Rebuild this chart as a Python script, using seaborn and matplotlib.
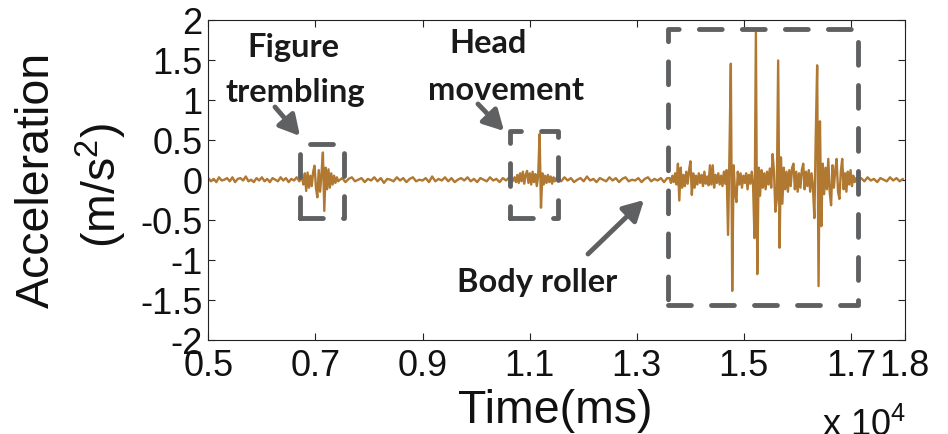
import numpy as np
import pandas as pd
import seaborn as sns
import matplotlib
matplotlib.use("Agg")
import matplotlib.pyplot as plt
from matplotlib.patches import Rectangle

# ---------------- data (time in ms, acceleration in m/s^2) ----------------
base1_start, base1_step = 5000, 50
base1_vals = [0.02, -0.02, 0.01, -0.03, 0.03, -0.01, 0.00, 0.02, -0.02, 0.03,
              -0.03, 0.01, 0.02, -0.01, 0.04, -0.02, 0.00, -0.03, 0.02, -0.01,
              0.03, -0.02, 0.01, -0.03, 0.02, 0.00, -0.02, 0.03, -0.01, 0.02,
              -0.03, 0.01, -0.01, 0.03, -0.02]

finger_start, finger_step = 6750, 26
finger_vals = [0.03, -0.06, 0.08, -0.14, 0.09, -0.10, 0.05, -0.08, 0.10, 0.175,
               -0.10, -0.22, 0.12, -0.15, 0.08, 0.34, -0.39, 0.15, -0.12, 0.13,
               -0.10, 0.08, -0.06, 0.05, -0.04, 0.03, -0.02]

base2_start, base2_step = 7440, 60
base2_vals = [-0.01, 0.02, -0.03, 0.01, 0.03, -0.02, 0.00, 0.02, -0.03, 0.01,
              -0.01, 0.03, -0.02, 0.02, -0.04, 0.01, 0.00, -0.02, 0.03, -0.01,
              0.02, -0.03, 0.01, 0.03, -0.02, 0.00, -0.01, 0.02, -0.03, 0.04,
              -0.02, 0.01, -0.01, 0.03, -0.02, 0.02, -0.03, 0.00, 0.02, -0.01,
              0.03, -0.02, 0.01, -0.03, 0.02, 0.00, -0.02, 0.03, -0.01, 0.01,
              -0.03, 0.02, -0.01, 0.03, -0.02]

head_start, head_step = 10718, 26
head_vals = [0.03, -0.03, 0.06, -0.04, 0.08, -0.02, 0.10, -0.05, 0.06, 0.11,
             -0.04, 0.08, -0.06, 0.10, -0.03, 0.07, -0.08, 0.05, 0.57, -0.35,
             0.08, -0.06, 0.05, -0.04, 0.06, -0.03, 0.04, -0.05, 0.03, -0.02,
             0.02]

base3_start, base3_step = 11530, 60
base3_vals = [0.01, -0.02, 0.03, -0.01, 0.02, -0.03, 0.00, 0.02, -0.02, 0.04,
              -0.01, 0.01, -0.03, 0.02, 0.00, -0.02, 0.03, -0.01, 0.02, -0.03,
              0.01, 0.03, -0.02, 0.00, -0.01, 0.02, -0.03, 0.01, 0.03, -0.02,
              0.01, -0.01, 0.02, -0.03, 0.02]

body_start, body_step = 13613, 26
body_vals = [0.02, -0.04, 0.05, -0.03, 0.08, -0.06, 0.20, -0.26, 0.15, -0.10,
             0.06, -0.08, 0.10, -0.05, 0.12, 0.23, -0.19, 0.08, -0.10, 0.05,
             -0.06, 0.08, -0.04, 0.06, -0.08, 0.10, -0.05, 0.04, -0.07, 0.18,
             -0.06, 0.18, -0.10, 0.06, -0.04, 0.08, -0.06, 0.05, -0.08, 0.10,
             -0.05, 0.12, -0.69, 0.30, 1.45, -1.39, 0.18, -0.15, -0.28, 0.10,
             -0.06, 0.08, -0.10, 0.05, -0.04, 0.08, -0.12, 0.06, -0.05, 0.10,
             -0.08, -0.73, 1.84, -1.18, 0.15, -0.20, 0.12, -0.10, 0.08, -0.12,
             0.10, -0.06, 0.14, -0.10, 0.32, 0.10, -0.40, -0.25, 1.49, -0.85,
             0.28, -0.30, 0.15, -0.12, 0.10, -0.15, 0.12, -0.08, 0.15, 0.20,
             -0.12, 0.10, -0.15, 0.08, -0.10, 0.12, 0.20, -0.12, 0.10, -0.08,
             0.12, -0.15, 0.08, -0.10, -0.48, 0.54, 1.43, -1.33, 0.73, -0.58,
             0.20, -0.18, 0.15, -0.12, 0.26, -0.15, -0.32, 0.18, -0.10, 0.12,
             0.26, -0.15, -0.24, 0.10, 0.26, -0.12, 0.08, -0.15, 0.10, -0.06,
             0.12, -0.08, 0.05, -0.03, 0.02]

base4_start, base4_step = 17130, 60
base4_vals = [-0.01, 0.02, -0.02, 0.03, -0.01, 0.01, -0.03, 0.02, 0.00, -0.02,
              0.03, -0.01, 0.02, -0.02, 0.01]

x_ticks = [5000, 7000, 9000, 11000, 13000, 15000, 17000, 18000]
x_tick_labels = ["0.5", "0.7", "0.9", "1.1", "1.3", "1.5", "1.7", "1.8"]
y_ticks = [-2, -1.5, -1, -0.5, 0, 0.5, 1, 1.5, 2]
y_tick_labels = ["-2", "-1.5", "-1", "-0.5", "0", "0.5", "1", "1.5", "2"]

# highlighted event boxes: (t_start, t_end, a_low, a_high)
box_finger = (6714, 7542, -0.48, 0.45)
box_head = (10639, 11523, -0.48, 0.61)
box_body = (13579, 17130, -1.57, 1.89)

# ---------------- build table ----------------
segments = [(base1_start, base1_step, base1_vals),
            (finger_start, finger_step, finger_vals),
            (base2_start, base2_step, base2_vals),
            (head_start, head_step, head_vals),
            (base3_start, base3_step, base3_vals),
            (body_start, body_step, body_vals),
            (base4_start, base4_step, base4_vals)]
t_all, a_all = [], []
for start, step, vals in segments:
    t_all.extend(start + step * np.arange(len(vals)))
    a_all.extend(vals)
df = pd.DataFrame({"t": t_all, "a": a_all})

# ---------------- style ----------------
sns.set_theme(style="ticks")
plt.rcParams["font.family"] = ["Liberation Sans", "DejaVu Sans"]
plt.rcParams["mathtext.fontset"] = "custom"
plt.rcParams["mathtext.rm"] = "Liberation Sans"
plt.rcParams["mathtext.it"] = "Liberation Sans:italic"

W, H = 948, 435
fig = plt.figure(figsize=(W / 100, H / 100), dpi=100)
ax = fig.add_axes([208.3 / W, 1 - 340.7 / H, (904.5 - 208.3) / W, (340.7 - 20.7) / H])

line_color = "#B07830"
gray = "#5F6062"

sns.lineplot(data=df, x="t", y="a", ax=ax, estimator=None, sort=False,
             color=line_color, linewidth=1.7)

ax.set_xlim(5000, 18000)
ax.set_ylim(-2, 2)
ax.set_xticks(x_ticks)
ax.set_xticklabels(x_tick_labels)
ax.set_yticks(y_ticks)
ax.set_yticklabels(y_tick_labels)
ax.set_xlabel("")
ax.set_ylabel("")
for s in ax.spines.values():
    s.set_visible(True)
    s.set_linewidth(0.8)
    s.set_color("#222222")
ax.tick_params(axis="both", direction="in", length=5, width=0.8, colors="#222222",
               labelsize=26, top=True, right=True, labelcolor="#111111")
ax.tick_params(axis="x", pad=6)
ax.tick_params(axis="y", pad=4)

# dashed event boxes
for (x0, x1, y0, y1) in [box_finger, box_head, box_body]:
    r = Rectangle((x0, y0), x1 - x0, y1 - y0, fill=False, edgecolor=gray,
                  linewidth=3.5, linestyle=(0, (4.7, 4.15)), zorder=5)
    r.set_capstyle("round")
    r.set_joinstyle("round")
    ax.add_patch(r)

def fp(x, y):
    return (x / W, 1 - y / H)

# annotation texts
tk = dict(fontfamily=["Lato", "DejaVu Sans"], fontweight="bold", fontsize=23.5,
          color="#1a1a1a", ha="center", va="baseline")
fig.text(*fp(293, 56.7), "Figure", **tk)
fig.text(*fp(295, 101.7), "trembling", **tk)
fig.text(*fp(488, 53), "Head", **tk)
fig.text(*fp(506, 100), "movement", **tk)
fig.text(*fp(537, 291.7), "Body roller", **tk)

# arrows
aprops = dict(arrowstyle="-|>,head_length=0.55,head_width=0.3", color=gray,
              lw=3.5, mutation_scale=22, shrinkA=0, shrinkB=0)
for (tx, ty, hx, hy) in [(275, 108, 300, 137), (478, 105, 504, 132), (588, 255, 644, 201)]:
    ax.annotate("", xy=fp(hx, hy), xycoords="figure fraction",
                xytext=fp(tx, ty), textcoords="figure fraction",
                arrowprops=aprops, zorder=6)

# axis labels
fig.text(*fp(555, 423), "Time(ms)", fontsize=33.5, ha="center", va="baseline", color="#111111")
fig.text(*fp(37, 180), "Acceleration", fontsize=33.5, rotation=90,
         ha="center", va="center", color="#111111")
fig.text(*fp(101, 186), "(m/s$^2$)", fontsize=33.5, rotation=90,
         ha="center", va="center", color="#111111")
fig.text(*fp(822, 436), "x 10$^4$", fontsize=26, ha="left", va="baseline", color="#111111")

fig.savefig("out.png", dpi=100)
